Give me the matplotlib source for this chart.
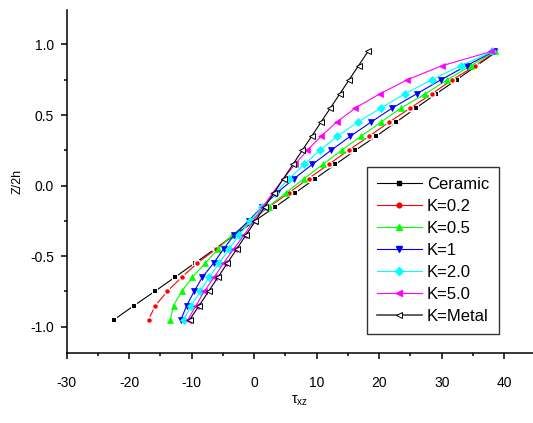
import matplotlib
matplotlib.use("Agg")
import matplotlib.pyplot as plt
from matplotlib.ticker import MultipleLocator

plt.rcParams['font.family'] = ['Liberation Sans', 'DejaVu Sans']

# thickness coordinate Z/2h
z = [-0.95, -0.85, -0.75, -0.65, -0.55, -0.45, -0.35, -0.25, -0.15, -0.05,
     0.05, 0.15, 0.25, 0.35, 0.45, 0.55, 0.65, 0.75, 0.85, 0.95]

# shear stress tau_xz for each material
ceramic = [-22.4, -19.2, -15.9, -12.7, -9.5, -6.3, -3.1, 0.1, 3.4, 6.6,
           9.8, 13.0, 16.2, 19.5, 22.7, 25.9, 29.1, 32.4, 35.6, 38.8]
k02 = [-16.9, -15.8, -13.9, -11.6, -9.1, -6.1, -3.4, -0.6, 2.4, 5.6,
       8.7, 11.9, 15.1, 18.4, 21.6, 25.0, 28.4, 31.7, 35.4, 38.6]
k05 = [-13.4, -12.9, -11.6, -9.9, -7.8, -5.8, -3.5, -0.6, 2.3, 5.1,
       8.0, 11.0, 14.0, 17.1, 20.3, 23.5, 27.4, 30.9, 34.7, 38.5]
k1 = [-11.7, -10.8, -9.6, -8.3, -6.5, -4.9, -3.2, -0.9, 1.3, 3.7,
      6.4, 9.3, 12.3, 15.4, 18.7, 22.1, 26.0, 29.9, 34.0, 38.3]
k2 = [-11.2, -10.1, -8.6, -7.2, -5.6, -4.0, -2.4, -0.6, 1.3, 3.4,
      5.6, 8.0, 10.5, 13.3, 16.6, 20.3, 24.1, 28.4, 33.1, 38.1]
k5 = [-10.6, -9.3, -8.0, -6.4, -4.9, -3.3, -1.6, -0.1, 1.4, 3.0,
      4.7, 6.5, 8.5, 10.7, 13.2, 16.2, 20.1, 24.5, 30.1, 37.9]
metal = [-10.3, -8.8, -7.3, -5.8, -4.3, -2.8, -1.3, 0.2, 1.7, 3.2,
         4.7, 6.2, 7.7, 9.2, 10.7, 12.2, 13.7, 15.2, 16.7, 18.2]

fig = plt.figure(figsize=(5.33, 4.23), dpi=100)
ax = fig.add_axes([0.125, 0.166, 0.875, 0.81])

lw = 0.8
# ceramic and K=0.2: line broken around each small symbol
ax.plot(ceramic, z, color='black', lw=lw)
ax.plot(ceramic, z, ls='none', marker='s', ms=5, mfc='white', mec='white', mew=0)
ax.plot(ceramic, z, ls='none', marker='s', ms=2.4, mfc='black', mec='black', mew=0)
ax.plot(k02, z, color='red', lw=lw)
ax.plot(k02, z, ls='none', marker='o', ms=5.5, mfc='white', mec='white', mew=0)
ax.plot(k02, z, ls='none', marker='o', ms=3.2, mfc='red', mec='red', mew=0)

ax.plot(k05, z, color='#00ff00', lw=lw, marker='^', ms=4.6, mec='#00ff00', mew=0.5)
ax.plot(k1, z, color='blue', lw=lw, marker='v', ms=4.6, mec='blue', mew=0.5)
ax.plot(k2, z, color='cyan', lw=lw, marker='D', ms=3.8, mec='cyan', mew=0.5)
ax.plot(k5, z, color='magenta', lw=lw, marker='<', ms=4.6, mec='magenta', mew=0.5)
ax.plot(metal, z, color='black', lw=lw, marker='<', ms=4.6, mfc='white',
        mec='black', mew=0.7)

# legend handles
labels = ['Ceramic', 'K=0.2', 'K=0.5', 'K=1', 'K=2.0', 'K=5.0', 'K=Metal']
h = [
    plt.Line2D([], [], color='black', lw=lw, marker='s', ms=2.6),
    plt.Line2D([], [], color='red', lw=lw, marker='o', ms=3.4),
    plt.Line2D([], [], color='#00ff00', lw=lw, marker='^', ms=4.6),
    plt.Line2D([], [], color='blue', lw=lw, marker='v', ms=4.6),
    plt.Line2D([], [], color='cyan', lw=lw, marker='D', ms=3.8),
    plt.Line2D([], [], color='magenta', lw=lw, marker='<', ms=4.6),
    plt.Line2D([], [], color='#444444', lw=1.2, marker='<', ms=4.2, mfc='white',
               mec='black', mew=0.7),
]

ax.set_xlim(-30, 44.6)
ax.set_ylim(-1.185, 1.243)

for s in ['top', 'right']:
    ax.spines[s].set_visible(False)
for s in ['left', 'bottom']:
    ax.spines[s].set_linewidth(1.1)

ax.xaxis.set_minor_locator(MultipleLocator(5))
ax.yaxis.set_minor_locator(MultipleLocator(0.25))
ax.set_yticks([-1.0, -0.5, 0.0, 0.5, 1.0])
ax.set_yticklabels(['-1.0', '-0.5', '0.0', '0.5', '1.0'])
ax.set_xticks([-30, -20, -10, 0, 10, 20, 30, 40])
ax.set_xticklabels(['-30', '-20', '-10', '0', '10', '20', '30', '40'])
ax.tick_params(which='major', direction='out', length=4.5, width=1.1, labelsize=10)
ax.tick_params(which='minor', direction='out', length=2.5, width=1.1)
ax.tick_params(axis='x', which='major', pad=12)
ax.tick_params(axis='y', which='major', pad=4.5)

ax.set_xlabel(r'$\mathregular{\tau_{xz}}$', fontsize=10, labelpad=3)
ax.set_ylabel('Z/2h', fontsize=9, labelpad=5)

leg = ax.legend(h, labels, loc='upper left', bbox_to_anchor=(0.644, 0.542), fontsize=12,
                frameon=True, fancybox=False, edgecolor='black', handlelength=2.7,
                handletextpad=0.3, labelspacing=0.42, borderpad=0.6,
                borderaxespad=0)
leg.get_frame().set_linewidth(1.0)

fig.savefig('out.png', dpi=100)
